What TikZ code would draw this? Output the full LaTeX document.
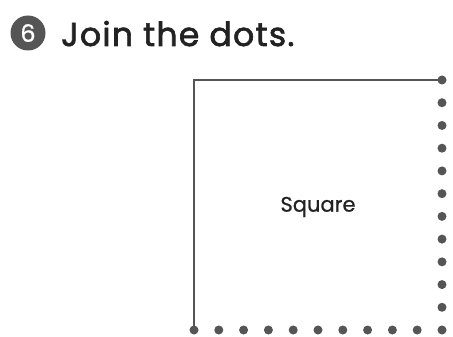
\documentclass[tikz,border=0pt]{standalone}
\usepackage{fontspec}
\setmainfont{Poppins}
\newfontfamily\titlefont{Poppins}[FakeBold=2,LetterSpace=4]
\newfontfamily\labelfont{Poppins}[FakeBold=0.8]
\definecolor{ink}{HTML}{555555}
\definecolor{txt}{HTML}{222222}
\begin{document}
\begin{tikzpicture}[x=1pt,y=-1pt,
  dot/.style={circle,fill=ink,inner sep=0pt,minimum size=9pt},
  edge/.style={draw=ink,line width=2pt}]
\useasboundingbox (0,0) rectangle (453,337);
% badge
\node[circle,fill=ink,minimum size=35pt,inner sep=0pt,text=white,font=\labelfont\fontsize{24}{24}\selectfont] (badge) at (28,33) {6};
\node[anchor=base west,text=txt,inner sep=0pt,font=\titlefont\fontsize{33}{33}\selectfont] (title) at (61,46) {Join the dots.};
% corners
\coordinate (tl) at (194,80);
\node[dot] (tr) at (442,80) {};
% right column dots
\foreach \i in {1,...,10} {
  \node[dot] (r\i) at (442,{80+\i*22.73}) {};
}
% bottom row dots
\foreach \i in {0,...,10} {
  \node[dot] (b\i) at ({194+\i*24.8},330) {};
}
\draw[edge] (b0.center) -- (tl) -- (tr.center);
\node[text=txt,font=\labelfont\fontsize{21}{21}\selectfont] (label) at (318,207) {Square};
\end{tikzpicture}
\end{document}
